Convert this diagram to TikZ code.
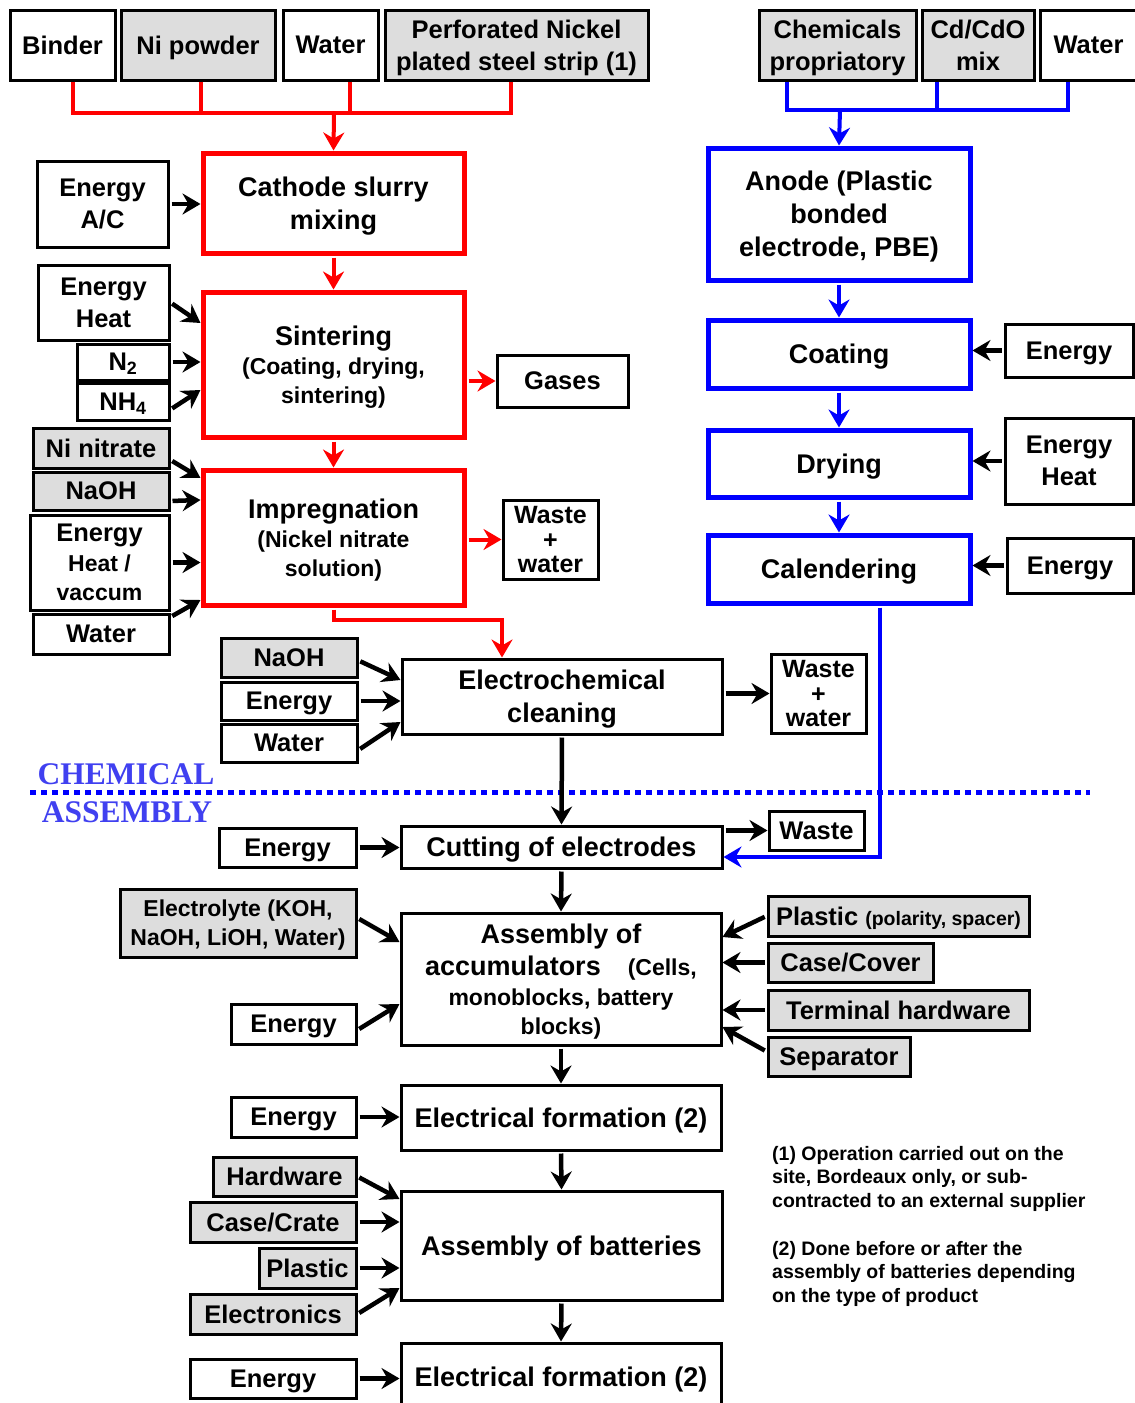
\documentclass[tikz,border=0pt]{standalone}
\usepackage{fontspec}
\setmainfont{Liberation Sans}
\newfontfamily\titrefont{Liberation Serif}
\usetikzlibrary{arrows.meta}
\definecolor{gris}{RGB}{221,221,221}
\definecolor{bleutitre}{RGB}{64,64,240}
\newcommand{\grand}{\fontsize{27}{33}\selectfont}
\newcommand{\moyen}{\fontsize{25.5}{32}\selectfont}
\newcommand{\petit}{\fontsize{23}{29}\selectfont}
\newcommand{\mini}{\fontsize{19.5}{23.5}\selectfont}
\tikzset{
  taille/.style 2 args = {minimum width=#1pt, minimum height=#2pt},
  boite/.style = {align=center, inner sep=0pt, text centered, text depth=0pt,
    draw=black, line width=3pt, fill=white, font=\bfseries\moyen},% entree, fond blanc
  boite_g/.style = {boite, fill=gris},% entree, fond gris
  etape/.style = {boite, font=\bfseries\grand},% etape, cadre noir
  etape_r/.style = {etape, draw=red, line width=5pt},% etape cathode, cadre rouge
  etape_b/.style = {etape, draw=blue, line width=5pt},% etape anode, cadre bleu
  fl/.style = {line width=4.5pt, shorten <=2pt},% fleche noire
  fl_r/.style = {fl, red, line width=4pt},
  fl_b/.style = {fl, blue, line width=4pt},
  bus_r/.style = {-, line width=4pt, red},% collecteur rouge
  bus_b/.style = {-, line width=4pt, blue}% collecteur bleu
}

\begin{document}
\begin{tikzpicture}[->,>={Stealth[length=18pt,width=21pt,inset=6pt]},
  x=1pt, y=-1pt]
\useasboundingbox (0,0) rectangle (1135,1403);
\clip (0,0) rectangle (1135,1403);

% entrees cathode
\node[boite, taille={105}{70}] (binder) at (62.5,45) {Binder};
\node[boite_g, taille={154}{70}] (nipoudre) at (198,45) {Ni powder};
\node[boite, taille={95}{70}] (eau_c) at (330.5,45) {Water};
\node[boite_g, taille={263}{70}] (feuillard) at (516.5,45) {Perforated Nickel\\plated steel strip (1)};

% entrees anode
\node[boite_g, taille={157}{70}] (chimie) at (837.5,45) {Chemicals\\propriatory};
\node[boite_g, taille={112}{70}] (cdo) at (978,45) {Cd/CdO\\mix};
\node[boite, taille={96}{70}] (eau_a) at (1088.5,45) {Water};

% ligne cathode
\node[etape_r, taille={261}{100}] (melange) at (333.5,203) {Cathode slurry\\mixing};
\node[boite, taille={131}{86}] (en_ac) at (102.5,204) {Energy\\A/C};
\node[etape_r, taille={261}{145}] (frittage) at (333.5,364.5) {Sintering\\[-4pt]\petit(Coating, drying,\\[-4pt]\petit sintering)};
\node[boite, taille={131}{75}] (en_chaleur) at (103.5,302.5) {Energy\\Heat};
\node[boite, taille={92}{36}] (azote) at (123,362) {N\textsubscript{2}};
\node[boite, taille={92}{37}] (ammoniac) at (123,401.5) {NH\textsubscript{4}};
\node[boite, taille={131}{52}] (gaz) at (562.5,381) {Gases};
\node[etape_r, taille={261}{135}] (impregnation) at (333.5,537.5) {Impregnation\\[-4pt]\petit(Nickel nitrate\\[-4pt]\petit solution)};
\node[boite_g, taille={136}{40}] (nitrate) at (101,448) {Ni nitrate};
\node[boite_g, taille={136}{38}] (soude_a) at (101,491) {NaOH};
\node[boite, taille={139}{95}] (en_vide) at (99.5,562.5) {Energy\\[-2pt]\petit Heat /\\[-3pt]\petit vaccum};
\node[boite, taille={136}{40}] (eau_i) at (101,634) {Water};
\node[boite, taille={95}{79}, font=\bfseries\fontsize{25}{24.5}\selectfont] (dechet_a) at (550.5,539.5) {Waste\\+\\water};

% nettoyage
\node[etape, taille={320}{75}] (nettoyage) at (562,696.5) {Electrochemical\\cleaning};
\node[boite_g, taille={136}{39}] (soude_b) at (289,657.5) {NaOH};
\node[boite, taille={136}{38}] (en_n) at (289,701) {Energy};
\node[boite, taille={136}{38}] (eau_n) at (289,743) {Water};
\node[boite, taille={95}{79}, font=\bfseries\fontsize{25}{24.5}\selectfont] (dechet_b) at (818.5,693.5) {Waste\\+\\water};

% ligne anode
\node[etape_b, taille={262}{132}] (anode) at (839,214) {Anode (Plastic\\bonded\\electrode, PBE)};
\node[etape_b, taille={262}{68}] (enduction) at (839,354) {Coating};
\node[boite, taille={128}{53}] (en_enduction) at (1069,350.5) {Energy};
\node[etape_b, taille={262}{67}] (sechage) at (839,463.5) {Drying};
\node[boite, taille={128}{86}] (en_sechage) at (1069,461) {Energy\\Heat};
\node[etape_b, taille={262}{68}] (calandrage) at (839,569) {Calendering};
\node[boite, taille={126}{55}] (en_cal) at (1070,565.5) {Energy};

% separation chimie / assemblage
\coordinate (sep_g) at (30,792);
\coordinate (sep_d) at (1090,792);
\draw[-, blue, line width=5pt, dash pattern=on 6pt off 5pt] (sep_g) -- (sep_d);
\node[font=\titrefont\bfseries\fontsize{31.5}{31.5}\selectfont, text=bleutitre] (chimique) at (126,774) {CHEMICAL};
\node[font=\titrefont\bfseries\fontsize{31.5}{31.5}\selectfont, text=bleutitre] (assemblage) at (127,812) {ASSEMBLY};

% assemblage
\node[etape, taille={321}{42}] (decoupe) at (561.5,847) {Cutting of electrodes};
\node[boite, taille={137}{39}] (en_d) at (287.5,847.5) {Energy};
\node[boite, taille={95}{39}] (dechet_c) at (816.5,830.5) {Waste};
\node[etape, taille={320}{132}] (accus) at (561,979) {Assembly of\\[-1pt]accumulators\quad{\petit(Cells,}\\[-3pt]\petit monoblocks, battery\\[-4pt]\petit blocks)};
\node[boite_g, taille={236}{68}, font=\bfseries\petit] (electrolyte) at (238,923) {Electrolyte (KOH,\\NaOH, LiOH, Water)};
\node[boite, taille={125}{40}] (en_acc) at (293.5,1024) {Energy};
\node[boite_g, taille={261}{40}] (plastique_a) at (898.5,916) {Plastic {\fontsize{19.5}{20}\selectfont(polarity, spacer)}};
\node[boite_g, taille={165}{39}] (couvercle) at (850.5,962.5) {Case/Cover};
\node[boite_g, taille={261}{40}] (bornes) at (898.5,1010) {Terminal hardware};
\node[boite_g, taille={142}{39}] (separateur) at (839,1056.5) {Separator};
\node[etape, taille={320}{65}] (formation_a) at (561,1117.5) {Electrical formation (2)};
\node[boite, taille={125}{40}] (en_fa) at (293.5,1117) {Energy};
\node[etape, taille={321}{109}] (batteries) at (561.5,1245.5) {Assembly of batteries};
\node[boite_g, taille={143}{39}] (quincaillerie) at (284.5,1176.5) {Hardware};
\node[boite_g, taille={166}{40}] (bac) at (273,1222) {Case/Crate};
\node[boite_g, taille={97}{40}] (plastique_b) at (307.5,1268) {Plastic};
\node[boite_g, taille={166}{40}] (electronique) at (273,1314) {Electronics};
\node[etape, taille={320}{67}] (formation_b) at (561,1376.5) {Electrical formation (2)};
\node[boite, taille={166}{39}] (en_fb) at (273,1378.5) {Energy};

% notes
\node[anchor=north west, align=left, inner sep=0pt, font=\bfseries\mini] (note_a) at (772,1146)
  {(1) Operation carried out on the\\site, Bordeaux only, or sub-\\contracted to an external supplier};
\node[anchor=north west, align=left, inner sep=0pt, font=\bfseries\mini] (note_b) at (772,1241)
  {(2) Done before or after the\\assembly of batteries depending\\on the type of product};

% collecteurs
\coordinate (jonction_r) at (334,113);
\coordinate (jonction_r1) at (73,113);
\coordinate (jonction_r2) at (201,113);
\coordinate (jonction_r3) at (350,113);
\coordinate (jonction_r4) at (511,113);
\draw[bus_r] (jonction_r1 |- binder.south) -- (jonction_r1) -- (jonction_r4) -- (jonction_r4 |- feuillard.south);
\draw[bus_r] (jonction_r2 |- nipoudre.south) -- (jonction_r2);
\draw[bus_r] (jonction_r3 |- eau_c.south) -- (jonction_r3);
\draw[fl_r] (jonction_r) -- (melange.north);

\coordinate (jonction_b) at (840,110);
\coordinate (jonction_b1) at (787,110);
\coordinate (jonction_b2) at (937,110);
\coordinate (jonction_b3) at (1068,110);
\draw[bus_b] (jonction_b1 |- chimie.south) -- (jonction_b1) -- (jonction_b3) -- (jonction_b3 |- eau_a.south);
\draw[bus_b] (jonction_b2 |- cdo.south) -- (jonction_b2);
\draw[fl_b] (jonction_b) -- (anode.north);

% fleches cathode
\draw[fl] (en_ac.east) -- (en_ac.east -| melange.west);
\draw[fl_r] (melange.south) -- (frittage.north);
\draw[fl] (en_chaleur.east) -- ([yshift=41.5pt]frittage.west);
\draw[fl] (azote.east) -- (azote.east -| frittage.west);
\draw[fl] ([yshift=-8pt]ammoniac.east) -- ([yshift=-25.5pt]frittage.west);
\draw[fl_r] (gaz.west -| frittage.east) -- (gaz.west);
\draw[fl_r] (frittage.south) -- (impregnation.north);
\draw[fl] ([yshift=-12pt]nitrate.east) -- ([yshift=59.5pt]impregnation.west);
\draw[fl] ([yshift=-10pt]soude_a.east) -- ([yshift=37.5pt]impregnation.west);
\draw[fl] (en_vide.east) -- (en_vide.east -| impregnation.west);
\draw[fl] ([yshift=17pt]eau_i.east) -- ([yshift=-62.5pt]impregnation.west);
\draw[fl_r] (dechet_a.west -| impregnation.east) -- (dechet_a.west);
\coordinate (coude_r) at (502,620);
\draw[fl_r] (impregnation.south) |- (coude_r) -- (coude_r |- nettoyage.north);

% fleches nettoyage
\draw[fl] ([yshift=-3pt]soude_b.east) -- ([yshift=16.5pt]nettoyage.west);
\draw[fl] (en_n.east) -- (en_n.east -| nettoyage.west);
\draw[fl] ([yshift=-7pt]eau_n.east) -- ([yshift=-25.5pt]nettoyage.west);
\draw[fl] (nettoyage.east |- dechet_b.west) -- (dechet_b.west);

% fleches anode
\draw[fl_b] (anode.south) -- (enduction.north);
\draw[fl] (en_enduction.west) -- (en_enduction.west -| enduction.east);
\draw[fl_b] (enduction.south) -- (sechage.north);
\draw[fl] (en_sechage.west) -- (en_sechage.west -| sechage.east);
\draw[fl_b] (sechage.south) -- (calandrage.north);
\draw[fl] (en_cal.west) -- (en_cal.west -| calandrage.east);
\coordinate (coude_b) at (880,857);
\draw[fl_b] (calandrage.south -| coude_b) -- (coude_b) -- (coude_b -| decoupe.east);

% fleches assemblage
\draw[fl] (nettoyage.south) -- (decoupe.north);
\draw[fl] (en_d.east) -- (en_d.east -| decoupe.west);
\draw[fl] (decoupe.east |- dechet_c.west) -- (dechet_c.west);
\draw[fl] (decoupe.south) -- (accus.north);
\draw[fl] ([yshift=5pt]electrolyte.east) -- ([yshift=37pt]accus.west);
\draw[fl] ([yshift=-6pt]en_acc.east) -- ([yshift=-25pt]accus.west);
\draw[fl] (plastique_a.west) -- ([yshift=42pt]accus.east);
\draw[fl] (couvercle.west) -- (couvercle.west -| accus.east);
\draw[fl] (bornes.west) -- (bornes.west -| accus.east);
\draw[fl] ([yshift=5pt]separateur.west) -- ([yshift=-48pt]accus.east);
\draw[fl] (accus.south) -- (formation_a.north);
\draw[fl] (en_fa.east) -- (en_fa.east -| formation_a.west);
\draw[fl] (formation_a.south) -- (batteries.north);
\draw[fl] (quincaillerie.east) -- ([yshift=46.5pt]batteries.west);
\draw[fl] (bac.east) -- (bac.east -| batteries.west);
\draw[fl] (plastique_b.east) -- (plastique_b.east -| batteries.west);
\draw[fl] (electronique.east) -- ([yshift=-42.5pt]batteries.west);
\draw[fl] (batteries.south) -- (formation_b.north);
\draw[fl] (en_fb.east) -- (en_fb.east -| formation_b.west);
\end{tikzpicture}
\end{document}
